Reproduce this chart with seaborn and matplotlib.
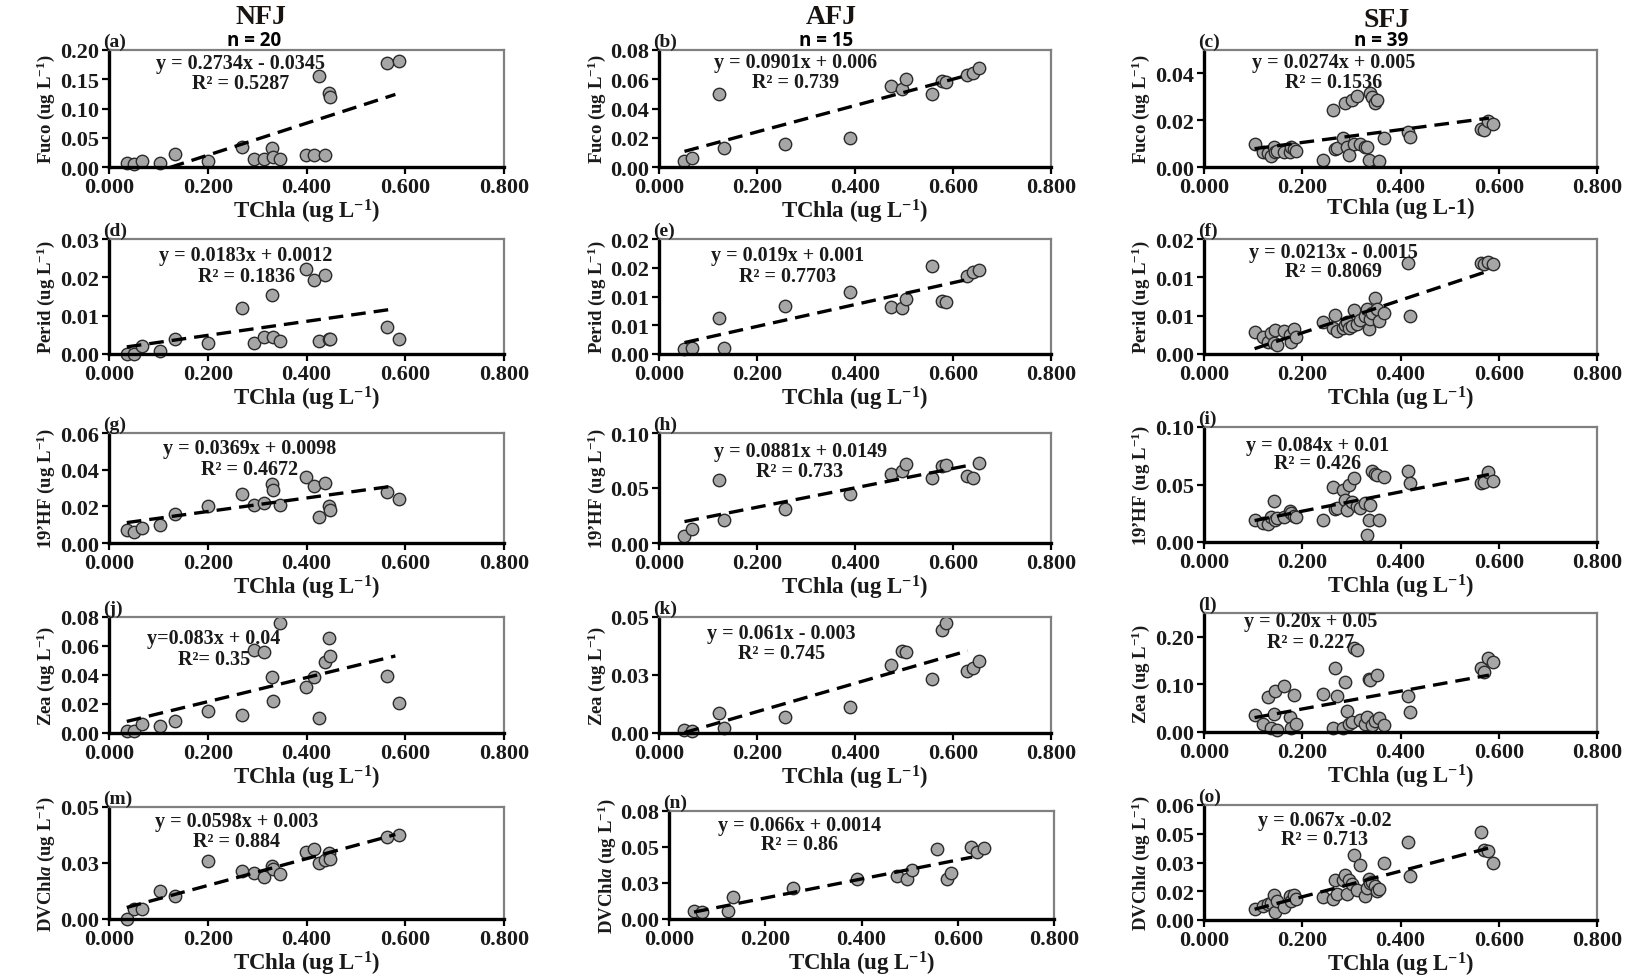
import numpy as np
import pandas as pd
import matplotlib
matplotlib.use("Agg")
import matplotlib.pyplot as plt
import seaborn as sns
from decimal import Decimal, ROUND_HALF_UP
from matplotlib.ticker import FuncFormatter

# ---------------- data ----------------
sites = ["NFJ", "AFJ", "SFJ"]
site_n = ["n = 20", "n = 15", "n = 39"]
pigments = ["Fuco", "Perid", "19HF", "Zea", "DVChla"]

x_nfj = [0.036, 0.050, 0.066, 0.104, 0.133, 0.201, 0.270, 0.293, 0.313, 0.331,
         0.333, 0.347, 0.399, 0.416, 0.426, 0.438, 0.445, 0.447, 0.564, 0.587]
fuco_nfj = [0.006, 0.005, 0.010, 0.007, 0.022, 0.011, 0.034, 0.013, 0.013, 0.033,
            0.017, 0.013, 0.021, 0.021, 0.155, 0.021, 0.126, 0.119, 0.177, 0.182]
perid_nfj = [0.000, 0.000, 0.002, 0.0007, 0.004, 0.003, 0.012, 0.003, 0.0044, 0.0155,
             0.0044, 0.0035, 0.0223, 0.0193, 0.0035, 0.0205, 0.004, 0.0038, 0.007, 0.004]
hf_nfj = [0.007, 0.006, 0.0083, 0.010, 0.016, 0.020, 0.027, 0.021, 0.022, 0.032,
          0.029, 0.021, 0.036, 0.031, 0.014, 0.033, 0.020, 0.018, 0.028, 0.024]
zea_nfj = [0.0016, 0.0016, 0.006, 0.005, 0.0086, 0.015, 0.0126, 0.057, 0.056, 0.0385,
           0.022, 0.076, 0.0315, 0.0385, 0.0105, 0.049, 0.0655, 0.053, 0.039, 0.021]
dv_nfj = [0.0, 0.0045, 0.0045, 0.0125, 0.0104, 0.0259, 0.0214, 0.0206, 0.0188, 0.0236,
          0.0221, 0.0199, 0.0301, 0.0313, 0.0248, 0.0264, 0.0294, 0.0267, 0.0364, 0.0377]

x_afj = [0.052, 0.068, 0.123, 0.132, 0.257, 0.390, 0.474, 0.495, 0.504, 0.557,
         0.577, 0.585, 0.628, 0.641, 0.654]
fuco_afj = [0.0038, 0.0059, 0.050, 0.013, 0.016, 0.0196, 0.0557, 0.053, 0.060, 0.050,
            0.059, 0.058, 0.063, 0.0645, 0.068]
perid_afj = [0.0009, 0.0011, 0.0062, 0.0011, 0.0084, 0.0108, 0.0082, 0.0080, 0.0095, 0.0153,
             0.0092, 0.0090, 0.0136, 0.0143, 0.0146]
hf_afj = [0.006, 0.0127, 0.057, 0.0206, 0.0306, 0.0445, 0.063, 0.0658, 0.0718, 0.059,
          0.0697, 0.071, 0.061, 0.0588, 0.0724]
zea_afj = [0.0015, 0.0009, 0.0086, 0.0022, 0.0067, 0.0114, 0.0294, 0.0352, 0.0349, 0.0233,
           0.0443, 0.0472, 0.0267, 0.0279, 0.0309]
dv_afj = [0.0057, 0.005, 0.0057, 0.0152, 0.0216, 0.0275, 0.030, 0.028, 0.034, 0.0484,
          0.0275, 0.032, 0.050, 0.0468, 0.0495]

x_sfj = [0.103, 0.121, 0.130, 0.137, 0.142, 0.145, 0.148, 0.163, 0.175, 0.178, 0.183, 0.188,
         0.243, 0.262, 0.266, 0.270, 0.282, 0.287, 0.291, 0.296, 0.302, 0.306, 0.312, 0.318,
         0.327, 0.332, 0.335, 0.338, 0.342, 0.348, 0.352, 0.356, 0.366,
         0.415, 0.419, 0.563, 0.570, 0.578, 0.588]
fuco_sfj = [0.0099, 0.0066, 0.0060, 0.0048, 0.0087, 0.0062, 0.0070, 0.0066, 0.0062, 0.0085, 0.0076, 0.0070,
            0.0031, 0.0245, 0.0077, 0.0080, 0.0123, 0.0273, 0.0087, 0.0052, 0.0287, 0.0100, 0.0303, 0.0099,
            0.0085, 0.0087, 0.0031, 0.0315, 0.0301, 0.0273, 0.0287, 0.0027, 0.0123,
            0.0151, 0.0130, 0.0162, 0.0160, 0.0197, 0.0182]
perid_sfj = [0.0029, 0.0022, 0.0016, 0.0028, 0.0014, 0.0031, 0.0012, 0.0030, 0.0025, 0.0016, 0.0032, 0.0022,
             0.0042, 0.0034, 0.0051, 0.0030, 0.0034, 0.0038, 0.0042, 0.0034, 0.0036, 0.0058, 0.0039, 0.0045,
             0.0050, 0.0059, 0.0033, 0.0046, 0.0054, 0.0073, 0.0059, 0.0043, 0.0053,
             0.0119, 0.0049, 0.0119, 0.0117, 0.0120, 0.0118]
hf_sfj = [0.0195, 0.0167, 0.0158, 0.0218, 0.0353, 0.0195, 0.0210, 0.0218, 0.0273, 0.0253, 0.0224, 0.0218,
          0.0187, 0.0474, 0.0287, 0.0295, 0.0454, 0.0368, 0.0276, 0.0497, 0.0350, 0.0555, 0.0310, 0.0300,
          0.0340, 0.0057, 0.0195, 0.0325, 0.0618, 0.0590, 0.0583, 0.0190, 0.0569,
          0.0620, 0.0517, 0.0517, 0.0526, 0.0610, 0.0534]
zea_sfj = [0.0355, 0.0163, 0.073, 0.0092, 0.0376, 0.087, 0.0043, 0.0965, 0.0305, 0.0092, 0.078, 0.0163,
           0.080, 0.0092, 0.135, 0.075, 0.0092, 0.105, 0.0447, 0.0163, 0.0200, 0.177, 0.172, 0.0255,
           0.0163, 0.0305, 0.112, 0.110, 0.0150, 0.0234, 0.119, 0.0284, 0.0142,
           0.075, 0.0426, 0.135, 0.126, 0.156, 0.1475]
dv_sfj = [0.0056, 0.0073, 0.0085, 0.0090, 0.0133, 0.0044, 0.0100, 0.0068, 0.0124, 0.0099, 0.0133, 0.0110,
          0.0119, 0.0112, 0.0208, 0.0136, 0.0208, 0.0235, 0.0136, 0.0210, 0.0190, 0.0337, 0.0158, 0.0286,
          0.0124, 0.0167, 0.0215, 0.0193, 0.0200, 0.0175, 0.0150, 0.0160, 0.0295,
          0.0409, 0.0227, 0.0457, 0.0366, 0.0358, 0.0300]

# trend lines as drawn (slope, intercept) and their x-extent per site
slopes = {"NFJ": [0.2734, 0.0183, 0.0369, 0.083, 0.0598],
          "AFJ": [0.0901, 0.019, 0.0881, 0.061, 0.066],
          "SFJ": [0.0274, 0.0213, 0.084, 0.187, 0.067]}
intercepts = {"NFJ": [-0.0345, 0.0012, 0.0098, 0.005, 0.003],
              "AFJ": [0.006, 0.001, 0.0149, -0.003, 0.0014],
              "SFJ": [0.005, -0.0015, 0.01, 0.011, -0.0013]}
trend_x = {"NFJ": [0.036, 0.58], "AFJ": [0.052, 0.63], "SFJ": [0.103, 0.58]}

eq_text = {"NFJ": ["y = 0.2734x - 0.0345", "y = 0.0183x + 0.0012", "y = 0.0369x + 0.0098",
                   "y=0.083x + 0.04", "y = 0.0598x + 0.003"],
           "AFJ": ["y = 0.0901x + 0.006", "y = 0.019x + 0.001", "y = 0.0881x + 0.0149",
                   "y = 0.061x - 0.003", "y = 0.066x + 0.0014"],
           "SFJ": ["y = 0.0274x + 0.005", "y = 0.0213x - 0.0015", "y = 0.084x + 0.01",
                   "y = 0.20x + 0.05", "y = 0.067x -0.02"]}
r2_text = {"NFJ": ["R² = 0.5287", "R² = 0.1836", "R² = 0.4672", "R²= 0.35", "R² = 0.884"],
           "AFJ": ["R² = 0.739", "R² = 0.7703", "R² = 0.733", "R² = 0.745", "R² = 0.86"],
           "SFJ": ["R² = 0.1536", "R² = 0.8069", "R² = 0.426", "R² = 0.227", "R² = 0.713"]}

panel_letters = [["(a)", "(b)", "(c)"], ["(d)", "(e)", "(f)"], ["(g)", "(h)", "(i)"],
                 ["(j)", "(k)", "(l)"], ["(m)", "(n)", "(o)"]]

y_ticks = {"NFJ": [[0, 0.05, 0.10, 0.15, 0.20], [0, 0.01, 0.02, 0.03], [0, 0.02, 0.04, 0.06],
                   [0, 0.02, 0.04, 0.06, 0.08], [0, 0.025, 0.05]],
           "AFJ": [[0, 0.02, 0.04, 0.06, 0.08], [0, 0.005, 0.01, 0.015, 0.02], [0, 0.05, 0.10],
                   [0, 0.025, 0.05], [0, 0.025, 0.05, 0.075]],
           "SFJ": [[0, 0.02, 0.04], [0, 0.005, 0.01, 0.015], [0, 0.05, 0.10],
                   [0, 0.10, 0.20], [0, 0.015, 0.03, 0.045, 0.06]]}
y_max = {"NFJ": [0.20, 0.03, 0.06, 0.08, 0.05],
         "AFJ": [0.08, 0.02, 0.10, 0.05, 0.075],
         "SFJ": [0.05, 0.015, 0.10, 0.25, 0.06]}
x_ticks = [0.0, 0.2, 0.4, 0.6, 0.8]

y_labels = [r"Fuco (ug L$^{-1}$)", r"Perid (ug L$^{-1}$)", r"19’HF (ug L$^{-1}$)",
            r"Zea (ug L$^{-1}$)", r"DVChl$\mathit{a}$ (ug L$^{-1}$)"]
x_label = r"TChla (ug L$^{-1}$)"
x_label_c = "TChla (ug L-1)"

data = {"NFJ": (x_nfj, [fuco_nfj, perid_nfj, hf_nfj, zea_nfj, dv_nfj]),
        "AFJ": (x_afj, [fuco_afj, perid_afj, hf_afj, zea_afj, dv_afj]),
        "SFJ": (x_sfj, [fuco_sfj, perid_sfj, hf_sfj, zea_sfj, dv_sfj])}

# ---------------- layout (pixels in a 1630x978 canvas) ----------------
W, H = 1630, 978
col_lr = [(109, 504), (659, 1051), (1204, 1597)]
row_tb = [(51, 168), (240, 355), (434, 544), (618, 734), (808, 920)]
special_box = {(4, 1): (669, 812, 1054, 920), (4, 2): (1204, 806, 1597, 921),
               (3, 2): (1204, 614, 1597, 733), (2, 2): (1204, 428, 1597, 543)}

# equation positions (axes fraction): (x_center, y_eq, y_r2)
eq_pos = {"NFJ": [(0.332, 0.893, 0.715), (0.347, 0.864, 0.681), (0.355, 0.868, 0.677),
                  (0.266, 0.816, 0.641), (0.324, 0.873, 0.693)],
          "AFJ": [(0.348, 0.895, 0.728), (0.327, 0.858, 0.680), (0.360, 0.839, 0.658),
                  (0.313, 0.864, 0.686), (0.338, 0.871, 0.691)],
          "SFJ": [(0.329, 0.895, 0.728), (0.330, 0.888, 0.718), (0.288, 0.842, 0.684),
                  (0.272, 0.930, 0.760), (0.308, 0.873, 0.703)]}
title_pos = [((0.385, 1.29), (0.366, 1.085)), ((0.44, 1.285), (0.427, 1.085)),
             ((0.464, 1.26), (0.45, 1.085))]

# ---------------- style ----------------
sns.set_theme(style="white")
plt.rcParams["font.family"] = ["Liberation Serif", "DejaVu Serif"]
plt.rcParams["mathtext.fontset"] = "custom"
plt.rcParams["mathtext.rm"] = "Liberation Serif:bold"
plt.rcParams["mathtext.it"] = "Liberation Serif:italic:bold"
plt.rcParams["mathtext.bf"] = "Liberation Serif:bold"

TEXT = "#1a1a1a"
FILL = "#a6a6a6"


def fmt2(v, pos):
    return str(Decimal(str(round(float(v), 6))).quantize(Decimal("0.01"), rounding=ROUND_HALF_UP))


def fmt3(v, pos):
    return f"{float(v):.3f}"


fig = plt.figure(figsize=(W / 100, H / 100), dpi=100)
fig.patch.set_facecolor("white")

for r in range(5):
    for c, site in enumerate(sites):
        if (r, c) in special_box:
            l, t, rr, b = special_box[(r, c)]
        else:
            l, rr = col_lr[c]
            t, b = row_tb[r]
        ax = fig.add_axes([l / W, 1 - b / H, (rr - l) / W, (b - t) / H])
        xs, ys_list = data[site]
        df = pd.DataFrame({"x": xs, "y": ys_list[r]})
        sns.scatterplot(data=df, x="x", y="y", ax=ax, s=80, color=FILL,
                        edgecolor="#2b2b2b", linewidth=1.0, zorder=2, clip_on=False)
        x0, x1 = trend_x[site]
        lx = np.array([x0, x1])
        ly = slopes[site][r] * lx + intercepts[site][r]
        ax.plot(lx, ly, color="black", lw=2.4, linestyle=(0, (4.4, 2.4)), zorder=3)

        ax.set_xlim(0, 0.8)
        ax.set_ylim(0, y_max[site][r])
        ax.set_xticks(x_ticks)
        ax.set_yticks(y_ticks[site][r])
        ax.xaxis.set_major_formatter(FuncFormatter(fmt3))
        ax.yaxis.set_major_formatter(FuncFormatter(fmt2))
        ax.tick_params(axis="both", which="major", direction="out", length=5, width=1.6,
                       color="black", labelsize=16, pad=2, bottom=True, left=True,
                       labelcolor=TEXT)
        for lab in ax.get_xticklabels() + ax.get_yticklabels():
            lab.set_fontweight("bold")
        for side in ["left", "bottom"]:
            ax.spines[side].set_color("black")
            ax.spines[side].set_linewidth(2.4)
        for side in ["top", "right"]:
            ax.spines[side].set_color("#808080")
            ax.spines[side].set_linewidth(1.6)
        ax.set_facecolor("white")

        xl = x_label_c if (r == 0 and c == 2) else x_label
        ax.set_xlabel(xl, fontsize=16.5, fontweight="bold", color=TEXT, labelpad=0)
        ax.set_ylabel(y_labels[r], fontsize=13.5, fontweight="bold", color=TEXT, labelpad=2)

        px, pe, pr = eq_pos[site][r]
        ax.text(px, pe, eq_text[site][r], transform=ax.transAxes, ha="center", va="center",
                fontsize=14.5, fontweight="bold", color=TEXT, zorder=4)
        ax.text(px, pr, r2_text[site][r], transform=ax.transAxes, ha="center", va="center",
                fontsize=14.5, fontweight="bold", color=TEXT, zorder=4)
        ax.text(-0.015, 1.0, panel_letters[r][c], transform=ax.transAxes, ha="left",
                va="bottom", fontsize=14, fontweight="bold", color=TEXT)

        if r == 0:
            (tx, ty), (nx, ny) = title_pos[c]
            ax.text(tx, ty, site, transform=ax.transAxes, ha="center", va="center",
                    fontsize=20, fontweight="bold", color="#1a1410")
            ax.text(nx, ny, site_n[c], transform=ax.transAxes, ha="center", va="center",
                    fontsize=13.5, fontweight="bold", color="black",
                    family=["Open Sans", "DejaVu Sans"])

fig.savefig("out.png", dpi=100, facecolor="white")
